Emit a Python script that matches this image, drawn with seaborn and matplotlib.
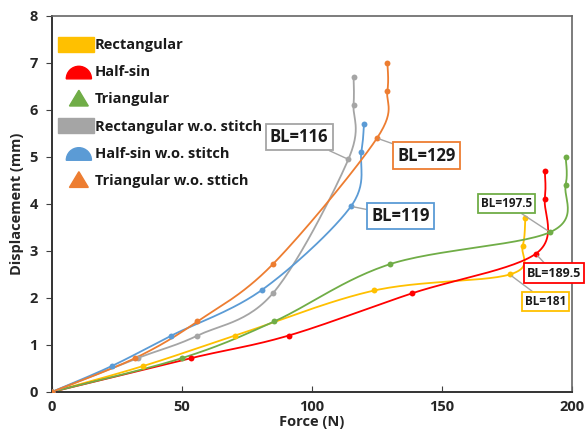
import numpy as np
import pandas as pd
import seaborn as sns
import matplotlib
matplotlib.use("Agg")
import matplotlib.pyplot as plt
import matplotlib.patches as mpatches
from matplotlib.legend_handler import HandlerPatch

sns.set_theme(style="white")
plt.rcParams['font.family'] = ['Open Sans', 'DejaVu Sans']

# ---- data ----
series_names = ["Rectangular", "Half-sin", "Triangular",
                "Rectangular w.o. stitch", "Half-sin w.o. stitch", "Triangular w.o. sttich"]
rect_force = [0, 35, 70.5, 124, 176, 181, 182]
rect_disp = [0, 0.55, 1.2, 2.16, 2.5, 3.1, 3.7]
half_force = [0, 53.5, 91, 138.5, 186, 189.5, 189.5]
half_disp = [0, 0.72, 1.2, 2.1, 2.94, 4.1, 4.7]
tri_force = [0, 50, 85.5, 130, 191.5, 197.5, 197.5]
tri_disp = [0, 0.72, 1.5, 2.72, 3.4, 4.4, 5.0]
rect_ns_force = [0, 33, 56, 85, 114, 116, 116]
rect_ns_disp = [0, 0.72, 1.2, 2.1, 4.95, 6.1, 6.7]
half_ns_force = [0, 23, 46, 81, 115, 119, 120]
half_ns_disp = [0, 0.55, 1.2, 2.18, 3.95, 5.1, 5.7]
tri_ns_force = [0, 32, 56, 85, 125, 129, 129]
tri_ns_disp = [0, 0.72, 1.5, 2.72, 5.4, 6.4, 7.0]

bl_labels = ["BL=181", "BL=189.5", "BL=197.5", "BL=116", "BL=119", "BL=129"]

colors = ["#FFC000", "#FF0000", "#70AD47", "#A5A5A5", "#5B9BD5", "#ED7D31"]
forces = [rect_force, half_force, tri_force, rect_ns_force, half_ns_force, tri_ns_force]
disps = [rect_disp, half_disp, tri_disp, rect_ns_disp, half_ns_disp, tri_ns_disp]

fig = plt.figure(figsize=(5.85, 4.32), dpi=100)
ax = fig.add_axes([0.0884, 0.0926, 0.978 - 0.0884, 0.963 - 0.0926])
ax.set_xlim(0, 200)
ax.set_ylim(0, 8)

# smoothing (Catmull-Rom style, like spreadsheet smoothed lines), in screen-proportional space
sx, sy = 2.6, 47.0


def smooth(xs, ys, n=30):
    P = np.column_stack([np.asarray(xs, float) * sx, np.asarray(ys, float) * sy])
    out = []
    m = len(P)
    for i in range(m - 1):
        p0 = P[i - 1] if i > 0 else P[i]
        p1 = P[i]
        p2 = P[i + 1]
        p3 = P[i + 2] if i + 2 < m else P[i + 1]
        c1 = p1 + (p2 - p0) / 6.0
        c2 = p2 - (p3 - p1) / 6.0
        t = np.linspace(0, 1, n)[:, None]
        seg = ((1 - t) ** 3) * p1 + 3 * ((1 - t) ** 2) * t * c1 + 3 * (1 - t) * t ** 2 * c2 + t ** 3 * p2
        out.append(seg if i == 0 else seg[1:])
    S = np.vstack(out)
    return S[:, 0] / sx, S[:, 1] / sy


for name, fx, dy, c in zip(series_names, forces, disps, colors):
    cx, cy = smooth(fx, dy)
    df_line = pd.DataFrame({"Force": cx, "Disp": cy})
    sns.lineplot(data=df_line, x="Force", y="Disp", sort=False, estimator=None,
                 color=c, linewidth=1.3, ax=ax)
    df_pts = pd.DataFrame({"Force": fx, "Disp": dy})
    sns.scatterplot(data=df_pts, x="Force", y="Disp", color=c, s=18, linewidth=0,
                    ax=ax, zorder=3)

# annotations
ann = [
    # label, series idx, point idx, text pos, fontsize
    (bl_labels[0], 0, 4, (189.8, 1.93), 8.5),
    (bl_labels[1], 1, 4, (193.0, 2.53), 9),
    (bl_labels[2], 2, 4, (174.7, 4.01), 8.5),
    (bl_labels[3], 3, 4, (95.1, 5.43), 12),
    (bl_labels[4], 4, 4, (134.0, 3.74), 12),
    (bl_labels[5], 5, 4, (144.0, 5.03), 12),
]
for lab, si, pi, pos, fs in ann:
    ax.annotate(lab, xy=(forces[si][pi], disps[si][pi]), xytext=pos,
                ha="center", va="center", fontsize=fs, fontweight="bold", color="#1a1a1a",
                bbox=dict(boxstyle="square,pad=0.25", fc="white", ec=colors[si], lw=1.3),
                arrowprops=dict(arrowstyle="-", color="#A5A5A5", lw=1.0,
                                shrinkA=0, shrinkB=2),
                annotation_clip=False, zorder=5)

ax.set_xticks([0, 50, 100, 150, 200])
ax.set_yticks(range(0, 9))
for lbl in ax.get_xticklabels() + ax.get_yticklabels():
    lbl.set_fontweight("bold")
    lbl.set_fontsize(10.5)
ax.tick_params(axis="x", direction="in", length=4, width=0.8, color="#404040", pad=6)
ax.tick_params(axis="y", direction="out", length=4, width=0.8, color="#404040", pad=6)
ax.xaxis.set_ticks_position("bottom")
ax.yaxis.set_ticks_position("left")
ax.set_xlabel("Force (N)", fontsize=10.5, fontweight="bold", labelpad=0.5)
ax.set_ylabel("Displacement (mm)", fontsize=10.5, fontweight="bold", labelpad=4)
for side in ["left", "bottom"]:
    ax.spines[side].set_color("#333333")
    ax.spines[side].set_linewidth(1.4)
for side in ["top", "right"]:
    ax.spines[side].set_color("#666666")
    ax.spines[side].set_linewidth(1.2)


# legend with shape handles
def rect_patch(legend, orig_handle, xdescent, ydescent, width, height, fontsize):
    return mpatches.Rectangle((-xdescent, -ydescent - 0.1 * height), width, height * 1.2)


def half_patch(legend, orig_handle, xdescent, ydescent, width, height, fontsize):
    r = height * 1.0
    cx = -xdescent + width / 2 + 2
    return mpatches.Wedge((cx, -ydescent - 0.1 * height), r, 0, 180)


def tri_patch(legend, orig_handle, xdescent, ydescent, width, height, fontsize):
    cx = -xdescent + width / 2 + 2
    hh = height * 1.25
    return mpatches.Polygon([(cx - hh * 0.6, -ydescent - 0.1 * height),
                             (cx + hh * 0.6, -ydescent - 0.1 * height),
                             (cx, -ydescent - 0.1 * height + hh)])


shape_funcs = [rect_patch, half_patch, tri_patch, rect_patch, half_patch, tri_patch]
handles = [mpatches.Patch(color=c, label=n) for c, n in zip(colors, series_names)]
hmap = {h: HandlerPatch(patch_func=f) for h, f in zip(handles, shape_funcs)}
leg = ax.legend(handles=handles, handler_map=hmap, loc="upper left",
                bbox_to_anchor=(-0.005, 0.965), frameon=False,
                prop={"weight": "bold", "size": 10.5}, handlelength=2.5, handleheight=0.95,
                labelspacing=0.88, handletextpad=0.05, borderaxespad=0.2)
for t in leg.get_texts():
    t.set_color("#1a1a1a")

fig.savefig("out.png", dpi=100)
